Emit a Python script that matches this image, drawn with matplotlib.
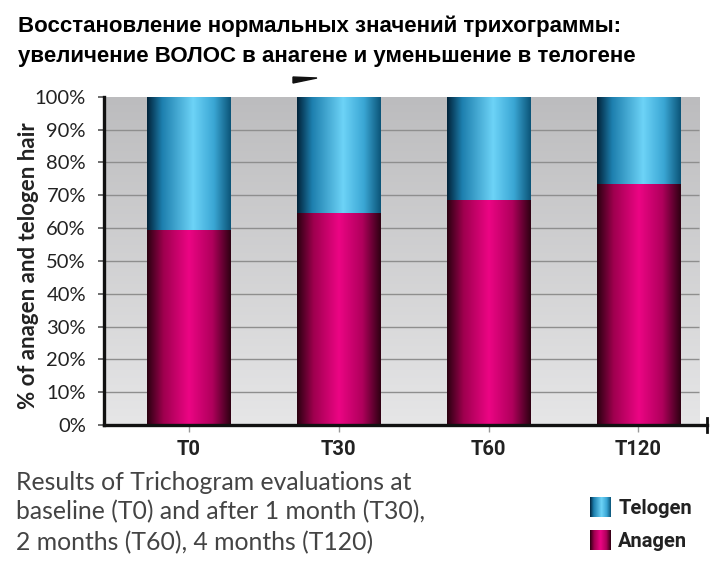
import matplotlib
matplotlib.use("Agg")
import matplotlib.pyplot as plt
import numpy as np
from matplotlib.colors import LinearSegmentedColormap
from matplotlib.patches import Polygon

# данные
categories = ["T0", "T30", "T60", "T120"]
anagen = [59.5, 64.5, 68.5, 73.5]
telogen = [100 - a for a in anagen]
yticks = list(range(0, 101, 10))

title = ("Восстановление нормальных значений трихограммы:\n"
         "увеличение ВОЛОС в анагене и уменьшение в телогене")
caption = ("Results of Trichogram evaluations at\n"
           "baseline (T0) and after 1 month (T30),\n"
           "2 months (T60), 4 months (T120)")

# градиенты "цилиндра"
cm_tel = LinearSegmentedColormap.from_list(
    "tel", [(0, "#01233a"), (0.18, "#1d7fae"), (0.55, "#6dd3f7"),
            (0.8, "#3aa6d4"), (1, "#0b5478")])
cm_ana = LinearSegmentedColormap.from_list(
    "ana", [(0, "#2a0010"), (0.2, "#a0004f"), (0.5, "#ec0584"),
            (0.78, "#b0005c"), (1, "#2e0012")])
cm_bg = LinearSegmentedColormap.from_list("bg", ["#e6e6e7", "#bcbcbe"])

fig = plt.figure(figsize=(7.18, 5.71), dpi=100)
ax = fig.add_axes([0.1448, 0.2557, 0.8402, 0.5749])

x = np.arange(len(categories))
width = 0.555
xmin, xmax, bg_right = -0.568, 3.46, 3.407
ax.set_xlim(xmin, xmax)
ax.set_ylim(0, 100)

# фон
grad = np.linspace(0, 1, 256).reshape(-1, 1)
ax.imshow(grad, cmap=cm_bg, origin="lower", extent=(xmin, bg_right, 0, 100),
          aspect="auto", zorder=0)
ax.hlines(yticks[1:-1], xmin, bg_right, color="#8e8e8e", lw=1.0, zorder=1)

hgrad = np.linspace(0, 1, 256).reshape(1, -1)
b1 = ax.bar(x, anagen, width, color="none", zorder=2)
b2 = ax.bar(x, telogen, width, bottom=anagen, color="none", zorder=2)
for bars, cm in ((b1, cm_ana), (b2, cm_tel)):
    for p in bars:
        x0, y0 = p.get_x(), p.get_y()
        ax.imshow(hgrad, cmap=cm, extent=(x0, x0 + p.get_width(), y0, y0 + p.get_height()),
                  aspect="auto", zorder=2)

ax.set_xlim(xmin, xmax)
ax.set_ylim(0, 100)

for s in ["top", "right"]:
    ax.spines[s].set_visible(False)
for s in ["left", "bottom"]:
    ax.spines[s].set_linewidth(2.4)
    ax.spines[s].set_color("#111111")
    ax.spines[s].set_zorder(5)
ax.plot([xmax, xmax], [-2.2, 2.2], color="#111111", lw=2, clip_on=False, zorder=6)

ax.set_yticks(yticks)
ax.set_yticklabels([f"{v}%" for v in yticks], fontsize=14.5, family="Lato",
                   color="#222222")
ax.tick_params(axis="y", length=4, width=1.2, color="#555555", pad=9)
ax.set_xticks(x)
ax.set_xticklabels(categories, fontsize=14.5, fontweight="bold",
                   family=["Liberation Sans Narrow", "Roboto"], color="#222222")
ax.tick_params(axis="x", length=5, width=1, color="#999999", pad=6)

fig.text(0.039, 0.535, "% of anagen and telogen hair", rotation=90, ha="center",
         va="center", fontsize=16, fontweight="bold", family="Lato", color="#222222")

fig.text(0.025, 0.972, title, ha="left", va="top", fontsize=16, fontweight="bold",
         family="Liberation Sans", color="black", linespacing=1.55)

fig.text(0.022, 0.176, caption, ha="left", va="top", fontsize=17.8,
         family="Lato", color="#444444", linespacing=1.36)

# легенда
for yy, cm, lab in ((0.094, cm_tel, "Telogen"), (0.036, cm_ana, "Anagen")):
    lax = fig.add_axes([0.822, yy, 0.029, 0.036])
    lax.imshow(hgrad, cmap=cm, aspect="auto")
    lax.axis("off")
    fig.text(0.861, yy + 0.016, lab, ha="left", va="center", fontsize=14.5,
             fontweight="bold", family=["Liberation Sans Narrow", "Roboto"],
             color="#222222")

# обрезок стрелки сверху
fig.patches.append(Polygon([[293 / 718, 1 - 77 / 571], [317 / 718, 1 - 78 / 571],
                            [293 / 718, 1 - 83 / 571]], closed=True,
                           transform=fig.transFigure, color="#111111"))

fig.savefig("out.png", dpi=100)
